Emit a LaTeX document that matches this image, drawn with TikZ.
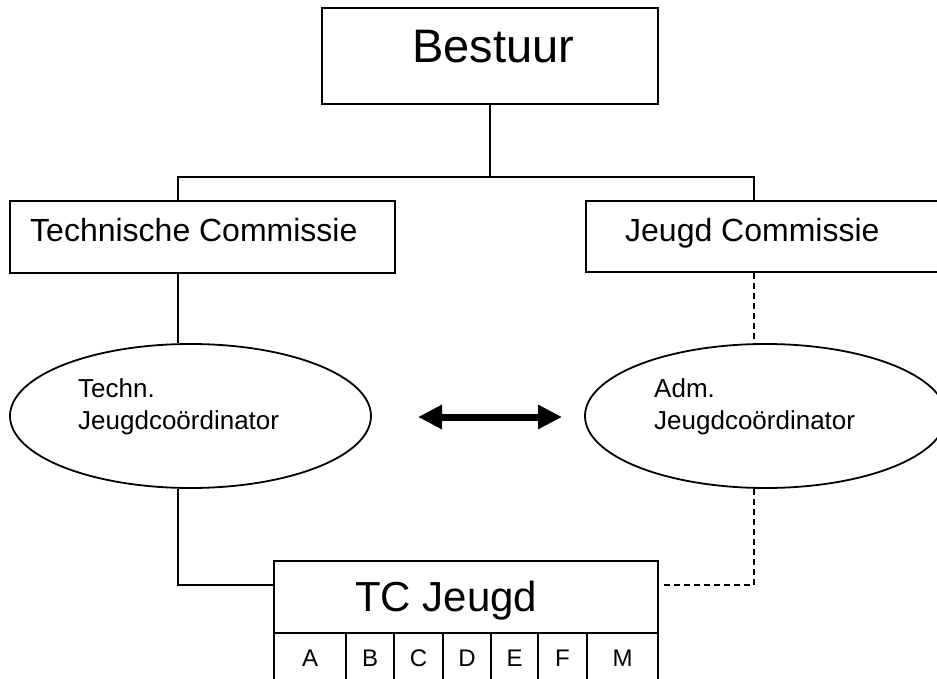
\documentclass[tikz,border=0pt]{standalone}
\usepackage{fontspec}
\setmainfont{Liberation Sans}
\usetikzlibrary{shapes.geometric,arrows.meta}

\begin{document}
\begin{tikzpicture}[x=1pt,y=-1pt,
  box/.style={draw,line width=1.8pt,rectangle,inner sep=0pt},
  ell/.style={draw,line width=1.8pt,ellipse,minimum width=361pt,minimum height=144pt,inner sep=0pt},
  cell/.style={draw,line width=1.8pt,rectangle,minimum height=51pt,inner sep=0pt,font=\fontsize{24}{28}\selectfont},
  lbl/.style={anchor=base west,inner sep=0pt},
  conn/.style={line width=1.8pt},
  dconn/.style={line width=1.8pt,dash pattern=on 6pt off 4pt}]
  \clip (0,0) rectangle (937,679);

  % boxes
  \node[box,minimum width=336pt,minimum height=96pt] (bestuur) at (490,56) {};
  \node[lbl,font=\fontsize{47}{56}\selectfont] (bestuur-t) at (412,63) {Bestuur};
  \node[box,minimum width=385pt,minimum height=72pt] (tc) at (202.5,237) {};
  \node[lbl,font=\fontsize{32}{38}\selectfont] (tc-t) at (30,242) {Technische Commissie};
  \node[box,minimum width=385pt,minimum height=71pt] (jc) at (778.5,236.5) {};
  \node[lbl,font=\fontsize{32}{38}\selectfont] (jc-t) at (625,242) {Jeugd Commissie};

  % coordinators
  \node[ell] (tech) at (190.5,416) {};
  \node[lbl,align=left,font=\fontsize{26}{32}\selectfont] (tech-t) at (78,429) {Techn.\\Jeugdcoördinator};
  \node[ell] (adm) at (765.5,416) {};
  \node[lbl,align=left,font=\fontsize{26}{32}\selectfont] (adm-t) at (654,429) {Adm.\\Jeugdcoördinator};

  % TC Jeugd with teams
  \node[box,minimum width=384pt,minimum height=72pt] (tcj) at (466,597) {};
  \node[lbl,font=\fontsize{42}{50}\selectfont] (tcj-t) at (355,611) {TC Jeugd};
  \foreach \l/\r/\n in {274/346/A,346/394/B,394/443/C,443/491/D,491/538/E,538/587/F,587/658/M}
    \node[cell,minimum width=(\r-\l)*1pt] (cell-\n) at ({(\l+\r)/2},658.5) {\n};

  \coordinate (top-l) at (178,177);
  \coordinate (top-r) at (754,177);
  \coordinate (low-l) at (178,585);
  \coordinate (low-r) at (754,585);
  \coordinate (tcj-r) at ([xshift=5pt]tcj.east);
  \coordinate (arr-l) at (418,417);
  \coordinate (arr-r) at (562,417);

  \draw[conn] (bestuur.south) -- (bestuur.south |- top-l);
  \draw[conn] (top-l |- tc.north) -- (top-l) -- (top-r) -- (top-r |- jc.north);
  \draw[conn] (top-l |- tc.south) -- (top-l |- tech.north);
  \draw[conn] (top-l |- tech.south) -- (low-l) -- (low-l -| tcj.west);
  \draw[dconn] (top-r |- jc.south) -- (top-r |- adm.north);
  \draw[dconn] (top-r |- adm.south) -- (low-r) -- (low-r -| tcj-r);
  \draw[line width=7pt,{Triangle[length=24pt,width=23pt]}-{Triangle[length=24pt,width=23pt]}] (arr-l) -- (arr-r);
\end{tikzpicture}
\end{document}
